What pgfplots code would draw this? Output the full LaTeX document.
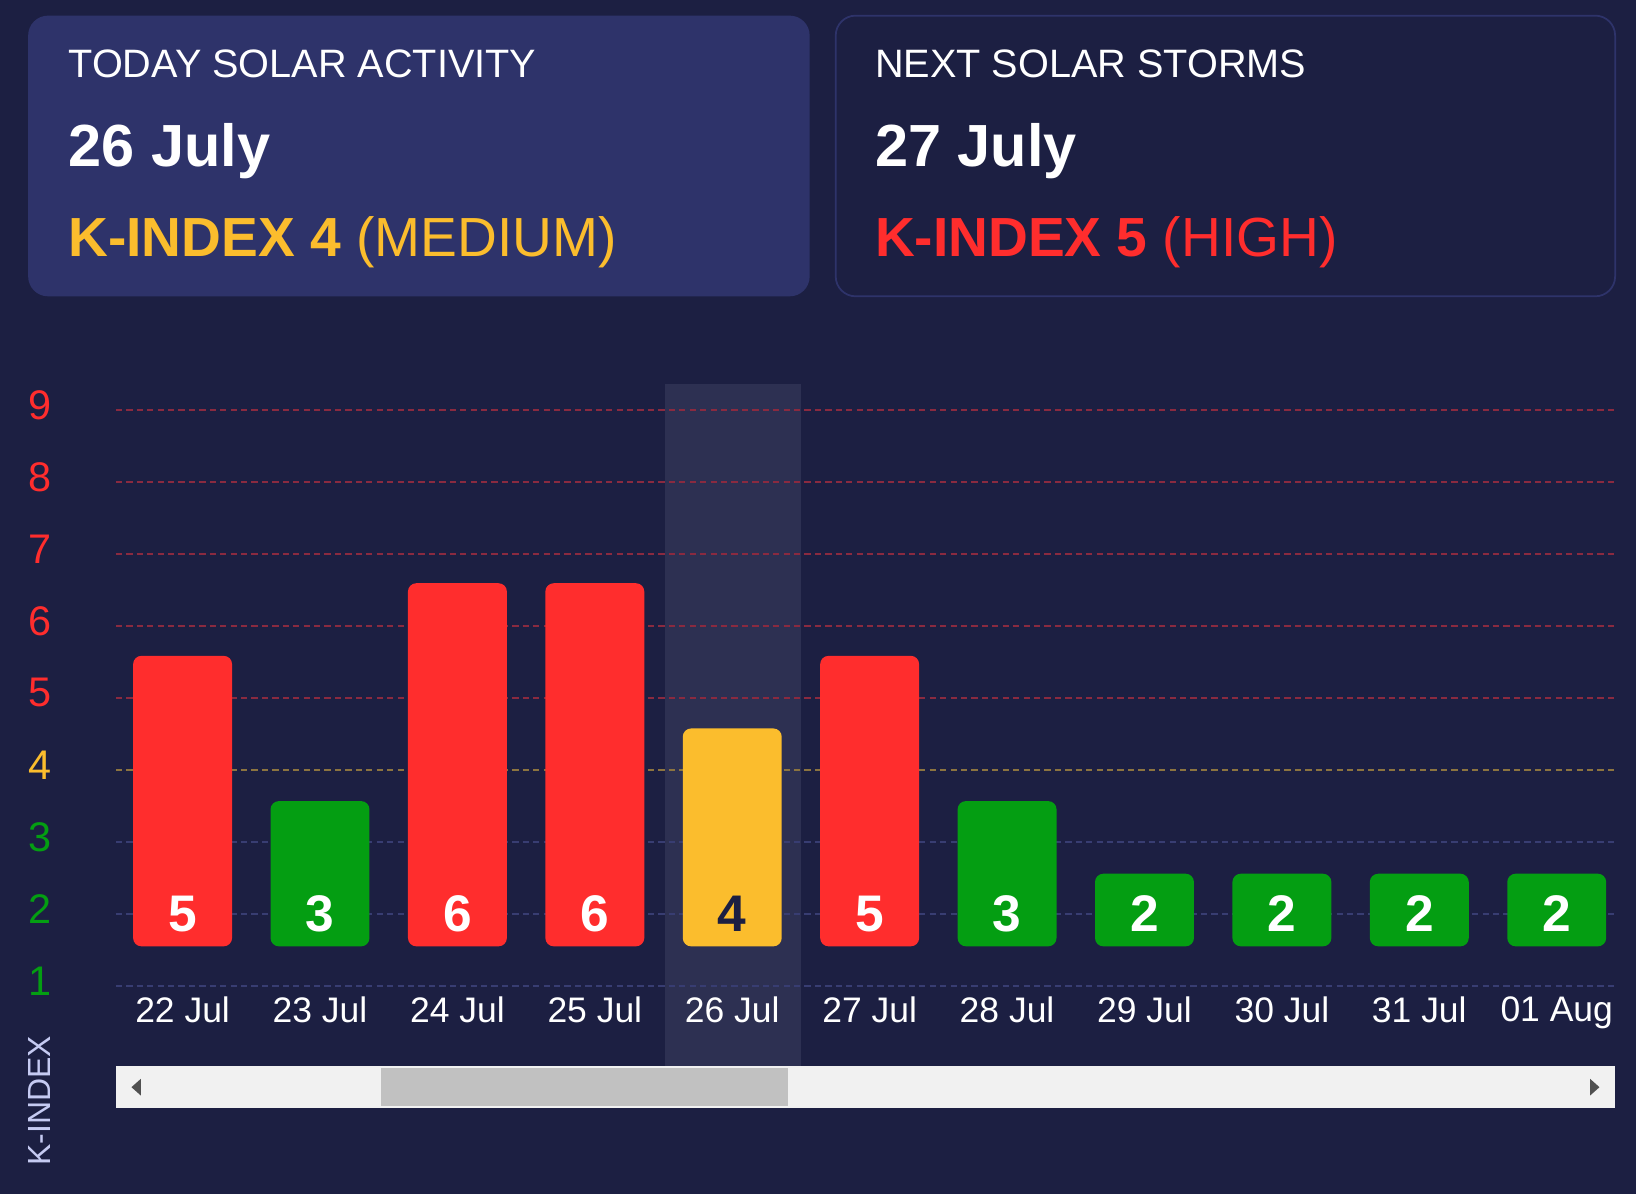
\documentclass[border=0pt]{standalone}
\usepackage{pgfplots}
\usepackage{pgfplotstable}
\pgfplotsset{compat=1.18}
\usepackage{fontspec}
\setmainfont{Liberation Sans}

\definecolor{bg}{HTML}{1C1F42}
\definecolor{boxfill}{HTML}{2E336A}
\definecolor{band}{HTML}{2D3052}
\definecolor{kred}{HTML}{FF2D2D}
\definecolor{kgreen}{HTML}{049E12}
\definecolor{kyellow}{HTML}{FBBD2D}
\definecolor{gridred}{HTML}{8A2A40}
\definecolor{gridyel}{HTML}{8C7440}
\definecolor{gridblue}{HTML}{383D72}
\definecolor{axlab}{HTML}{C5CAF2}
\definecolor{sbbg}{HTML}{F1F1F1}
\definecolor{sbthumb}{HTML}{C1C1C1}
\definecolor{sbarrow}{HTML}{505050}

% x = day index (0 = 22 Jul), k = K-index, ly = where the value label sits
\pgfplotstableread{
x k ly
0 5 1.45
2 6 1.45
3 6 1.45
5 5 1.45
}\redbars
\pgfplotstableread{
x k ly
1 3 1.45
6 3 1.45
7 2 1.45
8 2 1.45
9 2 1.45
10 2 1.45
}\greenbars
\pgfplotstableread{
x k ly
4 4 1.45
}\yellowbars

\begin{document}
\begin{tikzpicture}[x=0.3pt,y=-0.3pt]
\useasboundingbox (0,0) rectangle (1568,1144);
\fill[bg] (0,0) rectangle (1568,1144);

% header cards
\fill[boxfill, rounded corners=5.7pt] (27,15) rectangle (776,284);
\draw[boxfill, line width=0.5pt, rounded corners=5.7pt] (801,15) rectangle (1548,284);
\node[anchor=base west, inner sep=0pt, text=white, font=\fontsize{11.4}{13}\selectfont] at (65,74) {TODAY SOLAR ACTIVITY};
\node[anchor=base west, inner sep=0pt, text=white, font=\bfseries\fontsize{17.1}{20}\selectfont] at (65,160) {26 July};
\node[anchor=base west, inner sep=0pt, text=kyellow, font=\fontsize{15.85}{18}\selectfont] at (65,246) {\textbf{K-INDEX 4} (MEDIUM)};
\node[anchor=base west, inner sep=0pt, text=white, font=\fontsize{11.4}{13}\selectfont] at (838,74) {NEXT SOLAR STORMS};
\node[anchor=base west, inner sep=0pt, text=white, font=\bfseries\fontsize{17.1}{20}\selectfont] at (838,160) {27 July};
\node[anchor=base west, inner sep=0pt, text=kred, font=\fontsize{15.85}{18}\selectfont] at (838,246) {\textbf{K-INDEX 5} (HIGH)};

% today highlight
\fill[band] (637,368) rectangle (768,1022);

% scrollbar
\fill[sbbg] (111,1022) rectangle (1548,1062);
\fill[sbthumb] (365,1024) rectangle (755,1060);
\fill[sbarrow] (126,1042) -- (135,1034) -- (135,1050) -- cycle;
\fill[sbarrow] (1533,1042) -- (1524,1034) -- (1524,1050) -- cycle;

\node[rotate=90, text=axlab, inner sep=0pt, font=\fontsize{9.2}{11}\selectfont] at (38,1055) {K-INDEX};

\coordinate (gridSW) at (111,945);
\coordinate (barSW) at (111,907);

% grid, tick labels
\begin{axis}[
  at={(gridSW)}, anchor=south west,
  scale only axis, width=431.1pt, height=175.95pt,
  xmin=-0.486, xmax=10.425, ymin=1, ymax=9.5,
  clip=false,
  axis line style={draw=none}, tick style={draw=none},
  xtick={0,...,10},
  xticklabels={22 Jul,23 Jul,24 Jul,25 Jul,26 Jul,27 Jul,28 Jul,29 Jul,30 Jul,31 Jul,01 Aug},
  xticklabel style={anchor=north, inner sep=0pt, yshift=-3pt, text=white, font=\fontsize{10.2}{12}\selectfont},
  ytick={1,...,9},
  yticklabels={\textcolor{kgreen}{1},\textcolor{kgreen}{2},\textcolor{kgreen}{3},\textcolor{kyellow}{4},
    \textcolor{kred}{5},\textcolor{kred}{6},\textcolor{kred}{7},\textcolor{kred}{8},\textcolor{kred}{9}},
  yticklabel style={anchor=center, inner sep=0pt, xshift=-21.9pt, yshift=1.5pt, font=\fontsize{11.9}{13}\selectfont},
]
\pgfplotsinvokeforeach{1,2,3}{
  \draw[gridblue, line width=0.5pt, dash pattern=on 1.8pt off 1.2pt] (axis cs:-0.486,#1) -- (axis cs:10.425,#1);}
\draw[gridyel, line width=0.5pt, dash pattern=on 1.8pt off 1.2pt] (axis cs:-0.486,4) -- (axis cs:10.425,4);
\pgfplotsinvokeforeach{5,6,7,8,9}{
  \draw[gridred, line width=0.5pt, dash pattern=on 1.8pt off 1.2pt] (axis cs:-0.486,#1) -- (axis cs:10.425,#1);}
\end{axis}

% bars
\begin{axis}[
  at={(barSW)}, anchor=south west,
  scale only axis, width=431.1pt, height=164.55pt,
  xmin=-0.486, xmax=10.425, ymin=1, ymax=8.88,
  hide axis,
  ybar, bar shift=0pt, bar width=0.72,
  nodes near coords, point meta=explicit symbolic,
  every node near coord/.append style={anchor=center, inner sep=0pt, font=\bfseries\fontsize{14.8}{16}\selectfont},
]
\addplot[ybar, bar shift=0pt, fill=kred, draw=none, rounded corners=2.4pt, nodes near coords=] table[x=x, y=k] {\redbars};
\addplot[ybar, bar shift=0pt, fill=kgreen, draw=none, rounded corners=2.4pt, nodes near coords=] table[x=x, y=k] {\greenbars};
\addplot[ybar, bar shift=0pt, fill=kyellow, draw=none, rounded corners=2.4pt, nodes near coords=] table[x=x, y=k] {\yellowbars};
\addplot[only marks, mark=none, text=white] table[x=x, y=ly, meta=k] {\redbars};
\addplot[only marks, mark=none, text=white] table[x=x, y=ly, meta=k] {\greenbars};
\addplot[only marks, mark=none, text=bg] table[x=x, y=ly, meta=k] {\yellowbars};
\end{axis}
\end{tikzpicture}
\end{document}
